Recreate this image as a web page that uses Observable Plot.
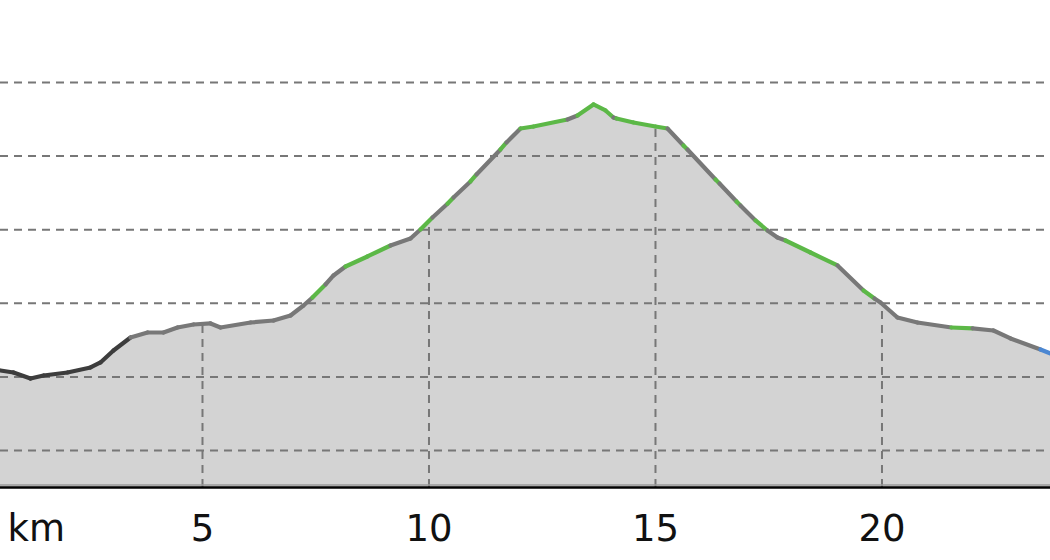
<!DOCTYPE html>
<html>
<head>
<meta charset="utf-8">
<script src="https://cdn.jsdelivr.net/npm/d3@7"></script>
<script src="https://cdn.jsdelivr.net/npm/@observablehq/plot@0.6"></script>
<style>
  html, body { margin: 0; padding: 0; background: #ffffff; }
  #chart svg { display: block; }
</style>
</head>
<body>
<div id="chart"></div>
<script>
// Distance along the route (km)
const km = [0.541, 0.828, 1.203, 1.490, 2.020, 2.528, 2.748, 3.035, 3.411, 3.786,
  4.139, 4.448, 4.801, 5.177, 5.397, 6.060, 6.567, 6.943, 7.230, 7.428,
  7.715, 7.892, 8.157, 8.642, 9.150, 9.592, 9.812, 10.077, 10.408, 10.541,
  10.916, 11.049, 11.578, 11.711, 12.020, 12.307, 13.057, 13.278, 13.631, 13.896,
  14.073, 14.139, 14.514, 15.000, 15.265, 15.618, 15.706, 16.325, 16.413, 16.788,
  16.876, 17.208, 17.472, 17.693, 17.870, 18.422, 19.018, 19.592, 19.834, 19.967,
  20.342, 20.784, 21.534, 21.998, 22.461, 22.837, 23.499, 23.720];
// Elevation (m)
const elevation = [208.7, 206.0, 197.8, 201.9, 206.0, 212.8, 219.6, 235.9, 253.5, 260.3,
  260.3, 267.1, 271.2, 272.6, 267.1, 273.9, 276.6, 283.4, 297.0, 307.9,
  325.5, 337.8, 350.0, 363.6, 378.5, 388.0, 400.3, 416.6, 435.3, 443.8,
  465.5, 475.0, 509.0, 518.5, 537.5, 540.2, 549.7, 555.2, 570.1, 562.0,
  552.4, 551.1, 545.7, 540.2, 537.5, 514.4, 509.0, 468.2, 462.8, 438.3,
  432.9, 412.5, 398.9, 389.4, 385.3, 369.0, 351.4, 317.4, 306.5, 301.1,
  280.7, 273.9, 267.1, 265.8, 263.0, 252.2, 237.2, 231.8];
// Class of the segment that starts at each point
const segClass = ["dark","dark","dark","dark","dark","dark","dark","dark","gray","gray",
  "gray","gray","gray","gray","gray","gray","gray","gray","gray","green",
  "gray","gray","green","green","gray","gray","green","gray","green","gray",
  "green","gray","green","gray","green","green","gray","green","green","green",
  "gray","green","green","green","gray","green","gray","green","gray","green",
  "gray","green","gray","gray","green","green","gray","green","gray","gray",
  "gray","gray","green","gray","gray","gray","blue"];
const classNames = ["dark", "gray", "green", "blue"];
const classColors = ["#3d3d3d", "#787878", "#5cb847", "#4b87d2"];
const xTicks = [5, 10, 15, 20];
const yGrid = [100, 200, 300, 400, 500, 600];
const xDomain = [0.541, 23.72];
const yDomain = [49.7, 711.4];

const points = km.map((k, i) => ({km: k, elev: elevation[i]}));
const segments = d3.pairs(points).map(([a, b], i) => ({
  x1: a.km, y1: a.elev, x2: b.km, y2: b.elev, cls: segClass[i]
}));
function elevAt(k) {
  const i = Math.max(1, Math.min(km.length - 1, d3.bisectRight(km, k)));
  const t = (k - km[i - 1]) / (km[i] - km[i - 1]);
  return elevation[i - 1] + t * (elevation[i] - elevation[i - 1]);
}
const vGrid = xTicks.map(t => ({km: t, top: elevAt(t)}));
const base = yDomain[0];

const chart = Plot.plot({
  width: 1050,
  height: 560,
  marginTop: 0,
  marginRight: 0,
  marginBottom: 73,
  marginLeft: 0,
  x: {domain: xDomain, axis: null},
  y: {domain: yDomain, axis: null},
  color: {domain: classNames, range: classColors},
  style: {fontFamily: "DejaVu Sans", background: "#ffffff"},
  marks: [
    Plot.areaY(points, {x: "km", y1: () => base, y2: "elev", fill: "#d3d3d3", curve: "linear"}),
    Plot.ruleY(yGrid, {stroke: "#777777", strokeWidth: 2, strokeDasharray: "8,6"}),
    Plot.ruleX(vGrid, {x: "km", y1: () => base, y2: "top", stroke: "#777777", strokeWidth: 2, strokeDasharray: "8,6"}),
    Plot.link(segments, {x1: "x1", y1: "y1", x2: "x2", y2: "y2", stroke: "cls", strokeWidth: 4.2, strokeLinecap: "round", strokeLinejoin: "round"}),
    Plot.ruleY([base], {stroke: "#9a9a9a", strokeWidth: 1.5, dy: -2.5}),
    Plot.ruleY([base], {stroke: "#000000", strokeWidth: 2.6}),
    Plot.text(xTicks, {x: d => d, y: () => base, text: d => String(d), dy: 42, fontSize: 37, fill: "#111111"}),
    Plot.text(["km"], {x: () => xDomain[0], y: () => base, text: d => d, dx: 7, dy: 42, textAnchor: "start", fontSize: 37, fill: "#111111"})
  ]
});
document.getElementById("chart").appendChild(chart);
</script>
</body>
</html>
